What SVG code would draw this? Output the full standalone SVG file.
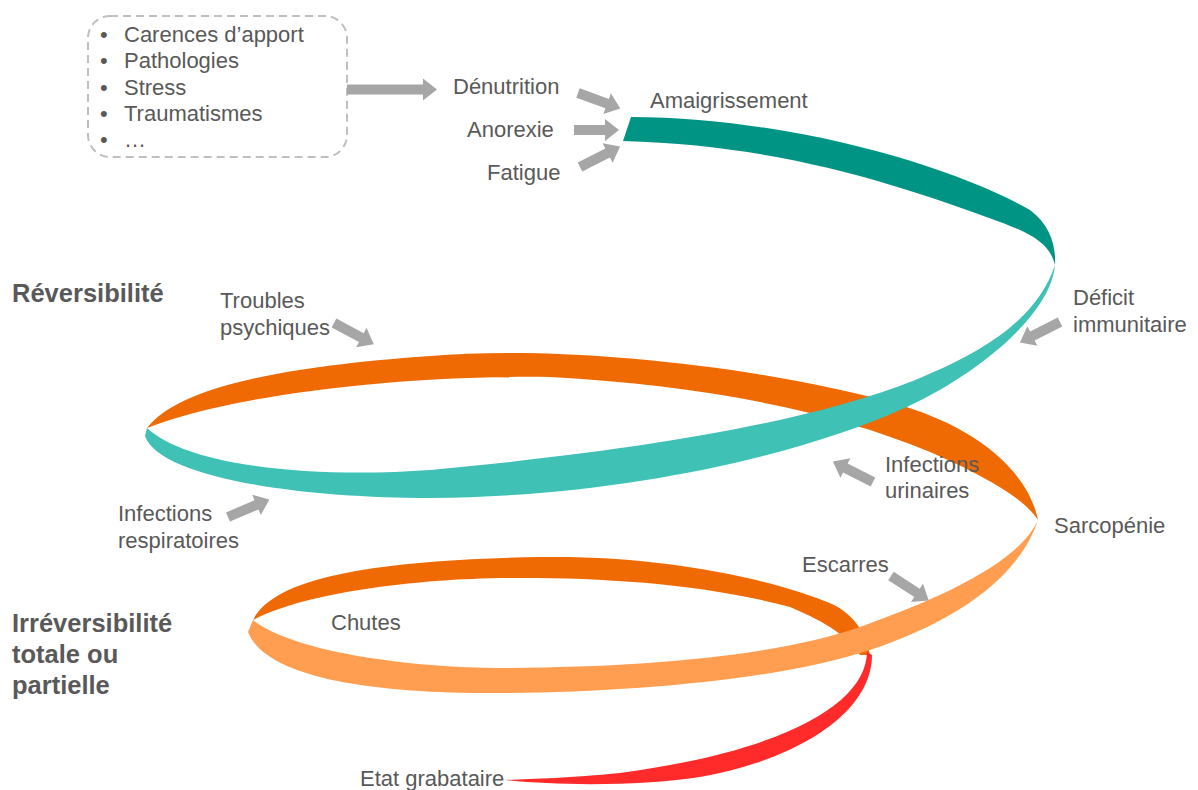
<svg xmlns="http://www.w3.org/2000/svg" xmlns:xlink="http://www.w3.org/1999/xlink" width="1198" height="790" viewBox="0 0 1198 790">
<style>
.t{font-family:"Liberation Sans",Arial,sans-serif;font-size:22px;fill:#595959}
.b{font-family:"Liberation Sans",Arial,sans-serif;font-size:25.5px;font-weight:bold;fill:#595959}
.arr{fill:#A6A6A6}
</style>
<defs>
<path id="arr" d="M0,-5 H31 V-11 L45,0 L31,11 V5 H0 Z"/>
</defs>
<rect width="1198" height="790" fill="#FFFFFF"/>
<g id="spiral">
<path id="seg-amaigrissement" fill="#009485" d="M631,117 C800,118 960,170 1030,210 C1050,225 1056,245 1055,265 C1050,245 1035,235 1000,222 C900,185 780,145 623,141 Z"/>
<path id="seg-orange-haut" fill="#EF6A02" d="M147,428 C175,392 260,368 430,356 C560,345 760,365 900,405 C990,432 1030,480 1038,520 C1025,500 990,478 930,452 C830,410 700,385 550,377 C400,375 230,395 147,428 Z"/>
<path id="seg-orange-bas" fill="#EF6A02" d="M253,620 C275,576 380,560 540,557 C660,555 770,578 832,604 C853,614 866,632 870,655 L860,655 C848,637 828,623 790,607 C700,583 600,577 500,578 C400,580 300,595 253,620 Z"/>
<path id="seg-rouge" fill="#FF2A2A" d="M867,652 C866,702 790,750 620,773 C570,778 530,779 505,780 C560,786 640,786 700,777 C800,759 872,712 872,655 Z"/>
<path id="seg-teal" fill="#3FC1B6" d="M1055,265 C1040,310 1000,345 920,378 C840,411 700,445 430,470 C320,478 190,468 147,428 L145,436 C160,478 300,498 430,498 C620,497 800,455 900,410 C965,382 1050,320 1055,265 Z"/>
<path id="seg-orange-clair" fill="#FF9E50" d="M1038,520 C1020,560 950,595 860,627 C780,655 650,667 507,668 C400,668 290,650 253,620 L248,632 C265,675 360,692 480,693 C620,694 780,680 870,650 C960,620 1020,575 1038,520 Z"/>
</g>
<g id="causes">
<rect x="88" y="16" width="259" height="141" rx="22" ry="22" fill="none" stroke="#BFBFBF" stroke-width="2" stroke-dasharray="8 5"/>
<text class="t" x="100" y="42">•</text><text class="t" x="124" y="42">Carences d’apport</text>
<text class="t" x="100" y="68">•</text><text class="t" x="124" y="68">Pathologies</text>
<text class="t" x="100" y="94.5">•</text><text class="t" x="124" y="94.5">Stress</text>
<text class="t" x="100" y="121">•</text><text class="t" x="124" y="121">Traumatismes</text>
<text class="t" x="100" y="147">•</text><text class="t" x="124" y="147">…</text>
</g>
<g id="denutrition"><text class="t" x="453" y="94">Dénutrition</text></g>
<g id="anorexie"><text class="t" x="467" y="137">Anorexie</text></g>
<g id="fatigue"><text class="t" x="487" y="180">Fatigue</text></g>
<g id="amaigrissement"><text class="t" x="650" y="108">Amaigrissement</text></g>
<g id="deficit"><text class="t" x="1073" y="305">Déficit</text><text class="t" x="1073" y="332">immunitaire</text></g>
<g id="troubles"><text class="t" x="220" y="308">Troubles</text><text class="t" x="220" y="335">psychiques</text></g>
<g id="reversibilite"><text class="b" x="12" y="302">Réversibilité</text></g>
<g id="infections-resp"><text class="t" x="118" y="521">Infections</text><text class="t" x="118" y="548">respiratoires</text></g>
<g id="infections-uri"><text class="t" x="885" y="472">Infections</text><text class="t" x="885" y="498">urinaires</text></g>
<g id="sarcopenie"><text class="t" x="1054" y="533">Sarcopénie</text></g>
<g id="escarres"><text class="t" x="802" y="572">Escarres</text></g>
<g id="chutes"><text class="t" x="331" y="630">Chutes</text></g>
<g id="irreversibilite"><text class="b" x="12" y="632">Irréversibilité</text><text class="b" x="12" y="663">totale ou</text><text class="b" x="12" y="694">partielle</text></g>
<g id="grabataire"><text class="t" x="360" y="786">Etat grabataire</text></g>
<g id="connectors" class="arr">
<path d="M347,84.5 H423 V78.5 L437,89.5 L423,100.5 V94.5 H347 Z"/>
<use xlink:href="#arr" transform="translate(578,93) rotate(20)"/>
<use xlink:href="#arr" transform="translate(574,130)"/>
<use xlink:href="#arr" transform="translate(580,167) rotate(-27)"/>
<use xlink:href="#arr" transform="translate(1060,322) rotate(153)"/>
<use xlink:href="#arr" transform="translate(334,323) rotate(28)"/>
<use xlink:href="#arr" transform="translate(228,517) rotate(-23)"/>
<use xlink:href="#arr" transform="translate(873,482) rotate(207)"/>
<use xlink:href="#arr" transform="translate(891,576) rotate(33)"/>
</g>
</svg>
